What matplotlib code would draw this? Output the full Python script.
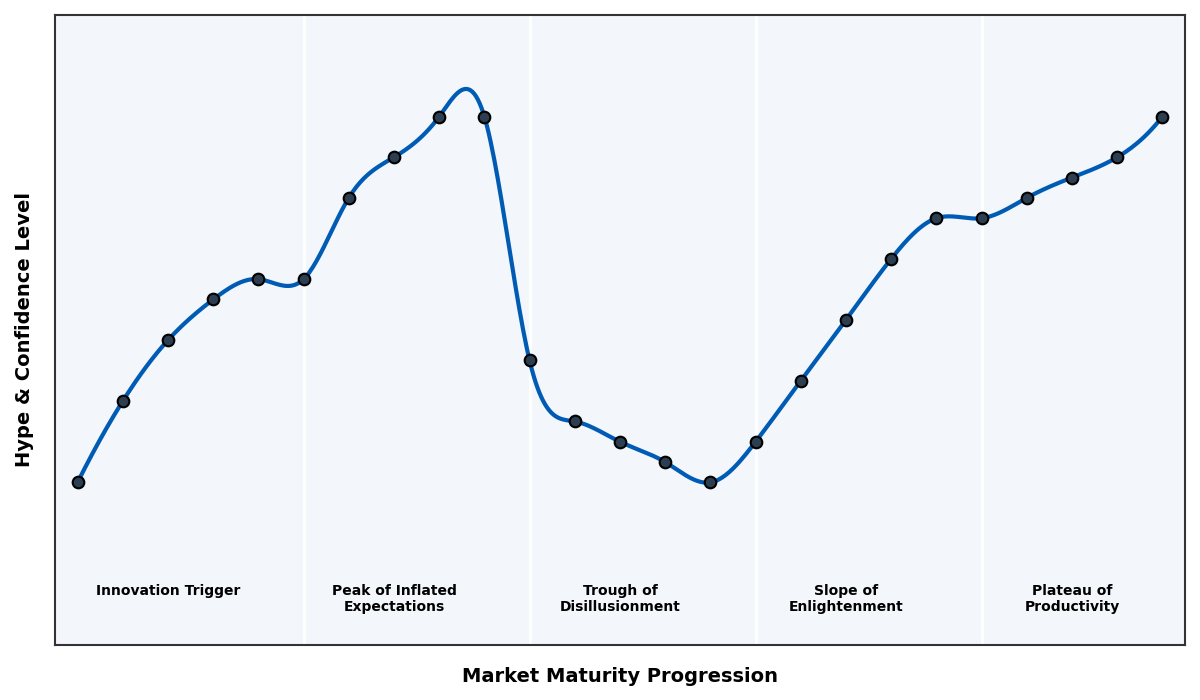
import numpy as np
import matplotlib
matplotlib.use("Agg")
import matplotlib.pyplot as plt

# datos (unidades arbitrarias, sin ticks)
etapa = np.arange(25)
hype = [20, 40, 55, 65, 70, 70, 90, 100, 110, 110,
        50, 35, 30, 25, 20, 30, 45, 60, 75, 85,
        85, 90, 95, 100, 110]

fases = ["Innovation Trigger", "Peak of Inflated\nExpectations",
         "Trough of\nDisillusionment", "Slope of\nEnlightenment",
         "Plateau of\nProductivity"]
centro_fases = [2, 7, 12, 17, 22]
limites_fases = [5, 10, 15, 20]


# spline cubico "not-a-knot" con numpy (no hay scipy)
def spline(x, y, n=600):
    x = np.asarray(x, float)
    y = np.asarray(y, float)
    m = len(x)
    h = np.diff(x)
    A = np.zeros((m, m))
    b = np.zeros(m)
    for i in range(1, m - 1):
        A[i, i - 1] = h[i - 1]
        A[i, i] = 2 * (h[i - 1] + h[i])
        A[i, i + 1] = h[i]
        b[i] = 6 * ((y[i + 1] - y[i]) / h[i] - (y[i] - y[i - 1]) / h[i - 1])
    A[0, 0], A[0, 1], A[0, 2] = h[1], -(h[0] + h[1]), h[0]
    A[-1, -3], A[-1, -2], A[-1, -1] = h[-1], -(h[-2] + h[-1]), h[-2]
    M = np.linalg.solve(A, b)
    xs = np.linspace(x[0], x[-1], n)
    k = np.clip(np.searchsorted(x, xs) - 1, 0, m - 2)
    t = (xs - x[k]) / h[k]
    ys = ((1 - t) * y[k] + t * y[k + 1]
          + ((1 - t) ** 3 - (1 - t)) * M[k] * h[k] ** 2 / 6
          + (t ** 3 - t) * M[k + 1] * h[k] ** 2 / 6)
    return xs, ys


xs, ys = spline(etapa, hype)

fig = plt.figure(figsize=(12, 7), dpi=100)
ax = fig.add_axes([0.0458, 0.0786, 0.9417, 0.9])
ax.set_facecolor("#f3f6fa")

for lim in limites_fases:
    ax.axvline(lim, color="white", lw=2, zorder=1)

ax.plot(xs, ys, color="#005bb5", lw=3, zorder=2)
ax.scatter(etapa, hype, s=70, color="#2c3e50", edgecolor="black",
           linewidth=1.5, zorder=3)

for c, f in zip(centro_fases, fases):
    ax.text(c, -5, f, ha="center", va="top", fontsize=10,
            fontweight="bold", linespacing=1.15)

ax.set_xlim(-0.5, 24.5)
ax.set_ylim(-20, 135)
ax.set_xticks([])
ax.set_yticks([])
for s in ax.spines.values():
    s.set_color("#333333")
    s.set_linewidth(1.5)

ax.set_xlabel("Market Maturity Progression", fontsize=14, fontweight="bold",
              labelpad=16)
ax.set_ylabel("Hype & Confidence Level", fontsize=14, fontweight="bold",
              labelpad=15)

fig.savefig("out.png")
